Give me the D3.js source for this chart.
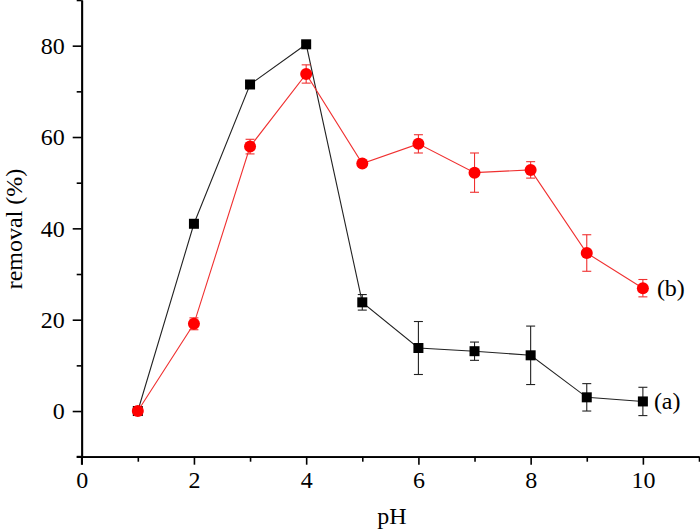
<!DOCTYPE html>
<html>
<head>
<meta charset="utf-8">
<script src="https://cdn.jsdelivr.net/npm/d3@7"></script>
<style>
    body { margin: 0; background: #fff; }
    text { font-family: "Liberation Serif", "DejaVu Serif", serif; }
</style>
</head>
<body>
<div id="chart"></div>
<script>
// data
var pH = [1, 2, 3, 4, 5, 6, 7, 8, 9, 10];
var removalA = [0, 41.0, 71.5, 80.3, 23.8, 13.8, 13.1, 12.2, 3.0, 2.1];
var errorA = [0, 0.5, 0.5, 0.5, 1.7, 5.8, 2.0, 6.4, 3.0, 3.1];
var removalB = [0, 19.1, 57.9, 73.8, 54.2, 58.5, 52.2, 52.8, 34.6, 26.9];
var errorB = [0, 1.3, 1.6, 2.0, 0.5, 2.0, 4.3, 1.8, 4.0, 1.9];
var xMajorTicks = [0, 2, 4, 6, 8, 10];
var xMinorTicks = [1, 3, 5, 7, 9, 11];
var yMajorTicks = [0, 20, 40, 60, 80];
var yMinorTicks = [-10, 10, 30, 50, 70, 90];

var chartWidth = 700, chartHeight = 529;
var plotLeft = 81.7, plotRight = 699, plotTop = 0, plotBottom = 456.7;

var svg = d3.select("#chart").append("svg")
    .attr("width", chartWidth)
    .attr("height", chartHeight);

var x = d3.scaleLinear().domain([0, 11]).range([plotLeft, plotRight]);
var y = d3.scaleLinear().domain([-10, 90]).range([plotBottom, plotTop]);

// axes
svg.append("g")
    .attr("transform", "translate(0," + plotBottom + ")")
    .call(d3.axisBottom(x).tickValues(xMajorTicks).tickSize(8).tickPadding(6).tickSizeOuter(0));
svg.append("g")
    .attr("transform", "translate(0," + plotBottom + ")")
    .call(d3.axisBottom(x).tickValues(xMinorTicks).tickSize(5).tickFormat("").tickSizeOuter(0));
svg.append("g")
    .attr("transform", "translate(" + plotLeft + ",0)")
    .call(d3.axisLeft(y).tickValues(yMajorTicks).tickSize(9).tickPadding(8).tickSizeOuter(0));
svg.append("g")
    .attr("transform", "translate(" + plotLeft + ",0)")
    .call(d3.axisLeft(y).tickValues(yMinorTicks).tickSize(5).tickFormat("").tickSizeOuter(0));
svg.selectAll(".domain").style("stroke", "#000").style("stroke-width", 1.8);
svg.selectAll(".tick line").style("stroke", "#000").style("stroke-width", 1.6);
svg.selectAll(".tick text")
    .style("font-family", "Liberation Serif")
    .style("font-size", "24px")
    .style("fill", "#000");
// small overhang where the axes meet
svg.append("line")
    .attr("x1", plotLeft - 5).attr("x2", plotLeft)
    .attr("y1", plotBottom).attr("y2", plotBottom)
    .style("stroke", "#000").style("stroke-width", 1.8);
svg.append("line")
    .attr("x1", plotLeft).attr("x2", plotLeft)
    .attr("y1", plotBottom).attr("y2", plotBottom + 8)
    .style("stroke", "#000").style("stroke-width", 1.6);

// axis titles
svg.append("text")
    .text("pH")
    .attr("x", 392)
    .attr("y", 524)
    .attr("text-anchor", "middle")
    .style("font-size", "24px");
svg.append("text")
    .text("removal (%)")
    .attr("transform", "translate(22,229) rotate(-90)")
    .attr("text-anchor", "middle")
    .style("font-size", "24px");

function drawSeries(values, errors, lineColour, markColour, shape) {
    var pts = pH.map((d, i) => ({x: d, y: values[i], e: errors[i]}));
    svg.append("path")
        .datum(pts)
        .attr("d", d3.line().x((d) => x(d.x)).y((d) => y(d.y)))
        .style("fill", "none")
        .style("stroke", lineColour)
        .style("stroke-width", 1.1);
    var err = svg.append("g").selectAll("g")
        .data(pts.filter((d) => d.e > 0)).enter()
        .append("g")
        .style("stroke", lineColour)
        .style("stroke-width", 1.1);
    err.append("line")
        .attr("x1", (d) => x(d.x)).attr("x2", (d) => x(d.x))
        .attr("y1", (d) => y(d.y - d.e)).attr("y2", (d) => y(d.y + d.e));
    [-1, 1].forEach((s) => {
        err.append("line")
            .attr("x1", (d) => x(d.x) - 4.5).attr("x2", (d) => x(d.x) + 4.5)
            .attr("y1", (d) => y(d.y + s * d.e)).attr("y2", (d) => y(d.y + s * d.e));
    });
    if (shape == "square") {
        svg.append("g").selectAll("rect")
            .data(pts).enter()
            .append("rect")
            .attr("x", (d) => x(d.x) - 5)
            .attr("y", (d) => y(d.y) - 5)
            .attr("width", 10)
            .attr("height", 10)
            .style("fill", markColour);
    } else {
        svg.append("g").selectAll("circle")
            .data(pts).enter()
            .append("circle")
            .attr("cx", (d) => x(d.x))
            .attr("cy", (d) => y(d.y))
            .attr("r", 6)
            .style("fill", markColour);
    }
    return pts[pts.length - 1];
}

// series
var lastA = drawSeries(removalA, errorA, "#222", "#000", "square");
var lastB = drawSeries(removalB, errorB, "#f03030", "#ff0000", "circle");

// series labels
svg.append("text")
    .text("(a)")
    .attr("x", x(lastA.x) + 11)
    .attr("y", y(lastA.y) + 8)
    .style("font-size", "24px");
svg.append("text")
    .text("(b)")
    .attr("x", x(lastB.x) + 14)
    .attr("y", y(lastB.y) + 8)
    .style("font-size", "24px");
</script>
</body>
</html>
